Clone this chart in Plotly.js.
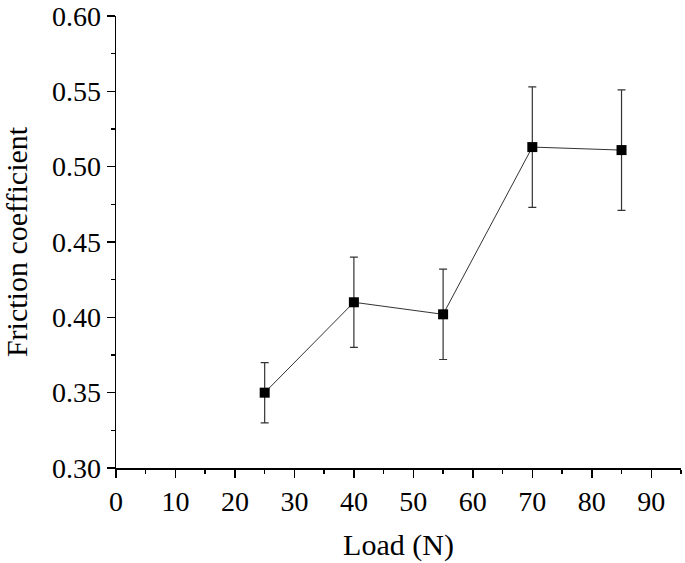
<!DOCTYPE html>
<html>
<head>
<meta charset="utf-8">
<script src="https://cdn.plot.ly/plotly-3.0.1.min.js"></script>
<style>html,body{margin:0;padding:0;background:#fff;}#chart{width:685px;height:563px;}</style>
</head>
<body>
<div id="chart"></div>
<script>
const loads = [25, 40, 55, 70, 85];
const friction = [0.350, 0.410, 0.402, 0.513, 0.511];
const errors = [0.020, 0.030, 0.030, 0.040, 0.040];
const xTickVals = [0, 10, 20, 30, 40, 50, 60, 70, 80, 90];
const yTickVals = [0.30, 0.35, 0.40, 0.45, 0.50, 0.55, 0.60];

const font = 'Liberation Serif, Times New Roman, serif';

Plotly.newPlot('chart', [{
  x: loads,
  y: friction,
  type: 'scatter',
  mode: 'lines+markers',
  line: {color: '#333', width: 1},
  marker: {symbol: 'square', size: 10, color: '#000'},
  error_y: {type: 'data', array: errors, visible: true, color: '#333', thickness: 1.2, width: 4}
}], {
  width: 685, height: 563,
  margin: {l: 116, r: 4, t: 16, b: 95},
  paper_bgcolor: '#fff', plot_bgcolor: '#fff',
  showlegend: false,
  font: {family: font, color: '#000'},
  xaxis: {
    range: [0, 95], tickvals: xTickVals, ticks: 'outside', ticklen: 8, tickwidth: 1.5, tickcolor: '#000',
    showline: true, linecolor: '#000', linewidth: 1.5, showgrid: false, zeroline: false,
    tickfont: {size: 28, family: font}, ticklabeloverflow: 'allow',
    minor: {dtick: 5, ticks: 'outside', ticklen: 4, tickwidth: 1.5, tickcolor: '#000', showgrid: false},
    title: {text: 'Load (N)', font: {size: 30, family: font}, standoff: 18}
  },
  yaxis: {
    range: [0.30, 0.60], tickvals: yTickVals, tickformat: '.2f', ticks: 'outside', ticklen: 8, tickwidth: 1.5, tickcolor: '#000',
    showline: true, linecolor: '#000', linewidth: 1.5, showgrid: false, zeroline: false,
    tickfont: {size: 28, family: font}, ticklabeloverflow: 'allow',
    minor: {dtick: 0.025, ticks: 'outside', ticklen: 4, tickwidth: 1.5, tickcolor: '#000', showgrid: false},
    title: {text: 'Friction coefficient', font: {size: 30, family: font}, standoff: 26}
  }
}, {displayModeBar: false, staticPlot: true});
</script>
</body>
</html>
